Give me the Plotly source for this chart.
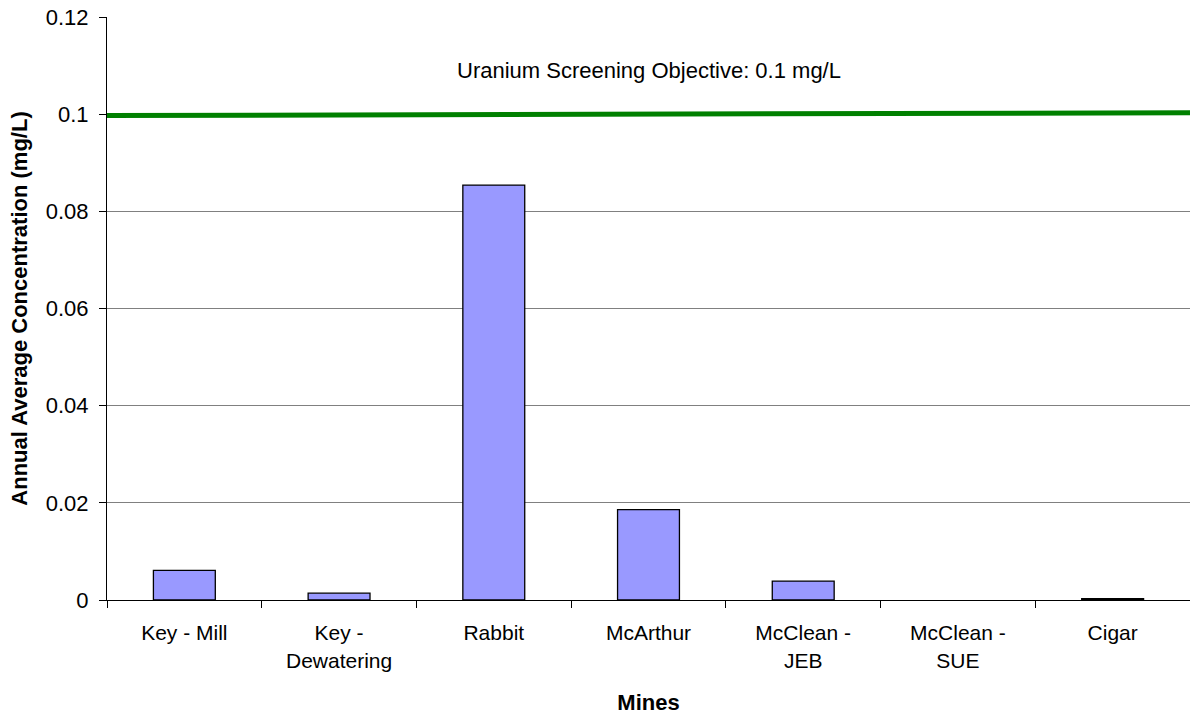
import plotly.graph_objects as go

mines = ["Key - Mill", "Key -<br>Dewatering", "Rabbit", "McArthur",
         "McClean -<br>JEB", "McClean -<br>SUE", "Cigar"]
concentration = [0.0061, 0.0014, 0.0854, 0.0186, 0.0039, 0.0, 0.0003]

objective_x = [0, 1]
objective_y = [0.0997, 0.1003]

yticks = [0, 0.02, 0.04, 0.06, 0.08, 0.1, 0.12]
ytick_text = ["0", "0.02", "0.04", "0.06", "0.08", "0.1", "0.12"]

FONT = "Liberation Sans, Arial, sans-serif"

# hide outline on zero-height bars
outline_w = [1.3 if v > 0 else 0 for v in concentration]

fig = go.Figure()
fig.add_trace(go.Bar(
    x=mines, y=concentration,
    marker=dict(color="#9999FF", line=dict(color="black", width=outline_w)),
    showlegend=False, hoverinfo="x+y",
))
fig.add_trace(go.Scatter(
    x=objective_x, y=objective_y, xaxis="x2", mode="lines",
    line=dict(color="#008000", width=5), showlegend=False,
))

fig.update_layout(
    width=1190, height=719,
    margin=dict(l=107, r=0, t=17, b=119),
    paper_bgcolor="white", plot_bgcolor="white",
    font=dict(family=FONT, size=22, color="black"),
    bargap=0.6,
    xaxis=dict(
        showline=True, linecolor="black", linewidth=1,
        ticks="outside", ticklen=7, tickcolor="black",
        tickson="boundaries", showgrid=False,
        tickfont=dict(size=21), ticklabelstandoff=14,
        title=dict(text="<b>Mines</b>", font=dict(size=22), standoff=24),
    ),
    xaxis2=dict(range=[0, 1], overlaying="x", visible=False),
    yaxis=dict(
        range=[0, 0.12], tickvals=yticks, ticktext=ytick_text,
        showline=True, linecolor="black", linewidth=1,
        ticks="outside", ticklen=7, tickcolor="black",
        showgrid=True, gridcolor="#808080", gridwidth=1,
        zeroline=False, ticklabelstandoff=6,
        tickfont=dict(size=22),
        title=dict(text="<b>Annual Average Concentration (mg/L)</b>",
                   font=dict(size=22), standoff=12),
    ),
    annotations=[dict(
        text="Uranium Screening Objective: 0.1 mg/L",
        x=0.5, xref="paper", y=0.1089, yref="y",
        showarrow=False, font=dict(size=22), xanchor="center",
    )],
)

fig.write_html("out.html", config={"displayModeBar": False},
               post_script="document.body.style.margin='0';document.body.style.overflow='hidden';")
